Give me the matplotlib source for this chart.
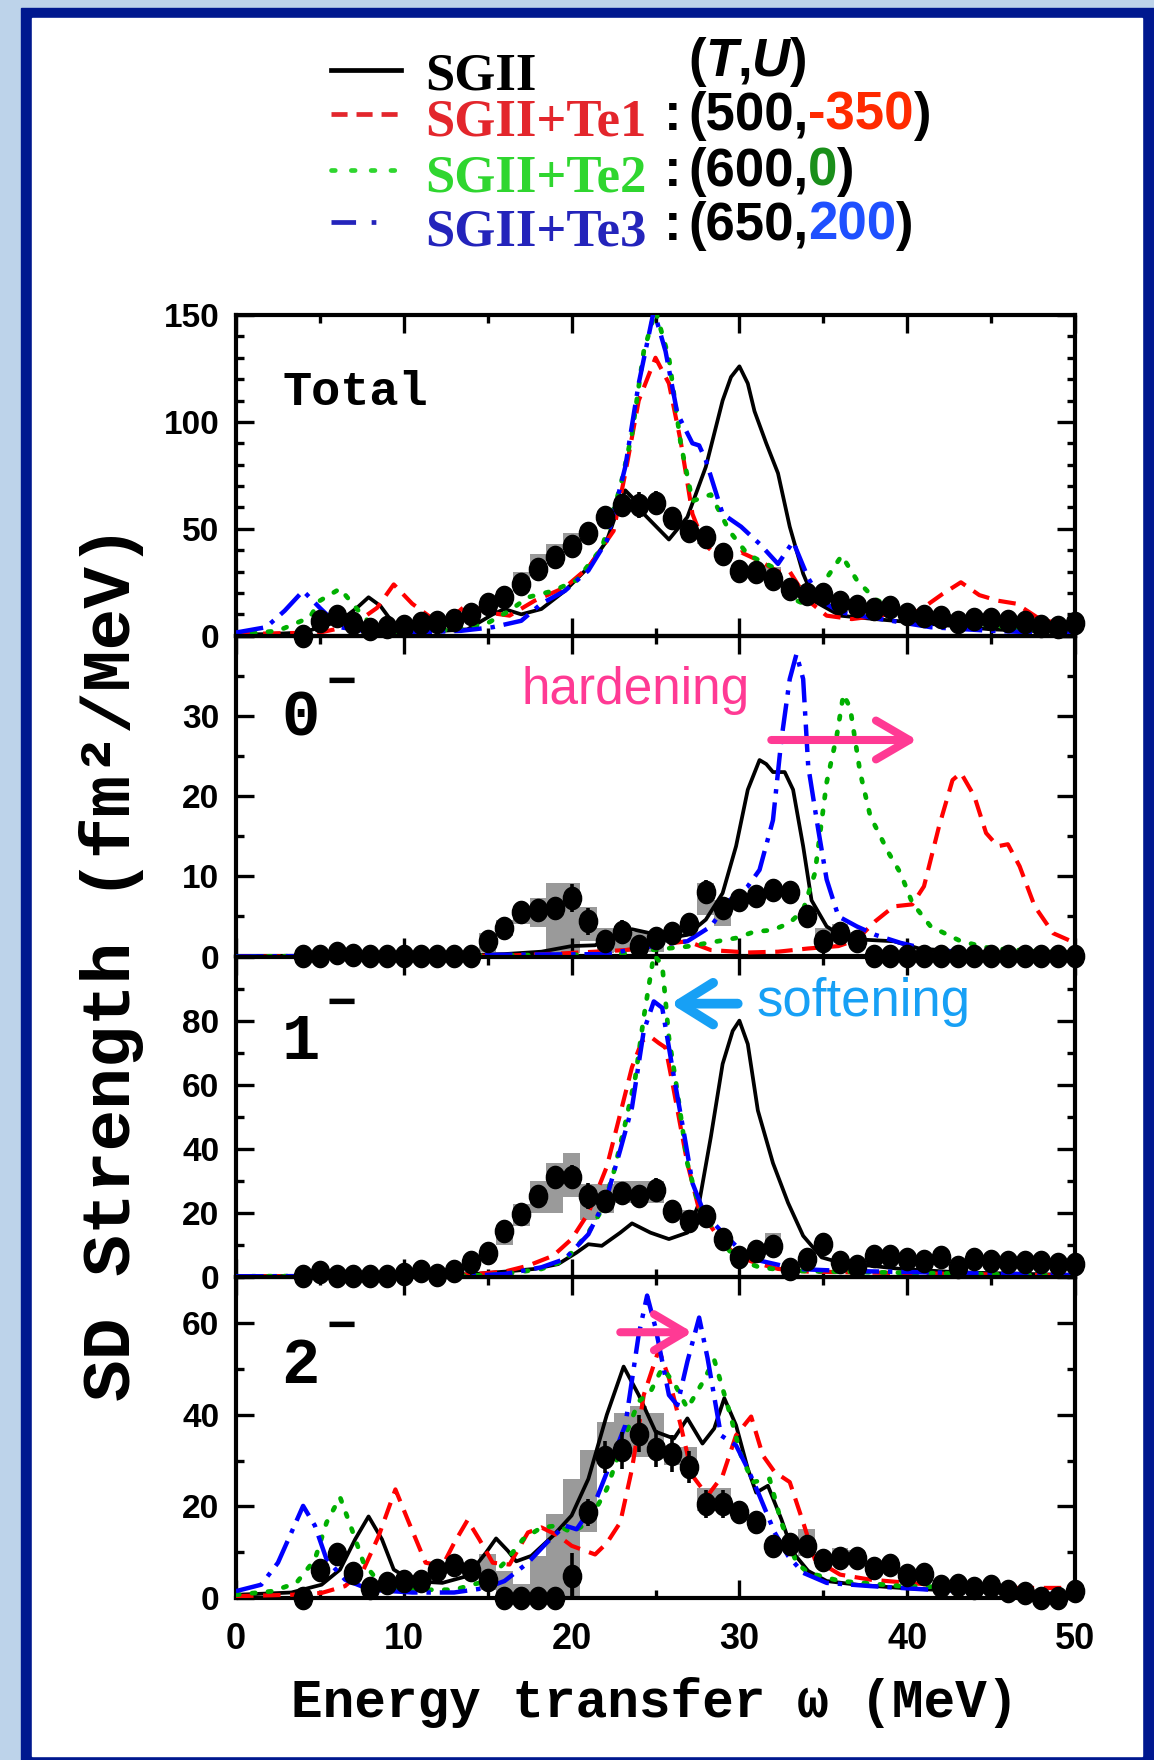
import numpy as np
import matplotlib
matplotlib.use("Agg")
import matplotlib.pyplot as plt
from matplotlib.patches import Rectangle
from matplotlib.lines import Line2D
from matplotlib.path import Path

# ---------------- data ----------------
omega_exp = list(range(4, 51))

# Total
tot_exp = [0, 6.7, 9.4, 5.8, 3, 4, 4.7, 5.8, 6.3, 7.3, 10, 15, 18, 24, 31, 37, 42, 48, 55.5, 61,
           61, 62, 55, 49, 46, 38, 30.5, 30, 26.5, 22, 19.5, 19.5, 15.6, 14, 12.5, 13.6, 10, 9.4,
           8.6, 6.3, 7.8, 7.8, 7, 6.3, 4.7, 4, 5.8]
tot_err = [1, 2, 2, 1.5, 1, 1, 1, 1, 1, 1, 1.5, 2, 2, 2.5, 3, 3, 3.5, 4, 4.5, 5, 6, 5.5, 4.5, 4,
           3.5, 3, 3, 3, 2.5, 2.5, 2, 2, 2, 2, 2, 2, 1.5, 1.5, 1.5, 1.5, 1.5, 1.5, 1.5, 1.5, 1.5, 1.5, 2]
tot_box_x = [17, 18, 19, 20, 27, 28, 32, 33]
tot_box_lo = [23, 30, 35, 40, 46, 43, 25, 20]
tot_box_hi = [30, 38, 43, 48, 52, 50, 32, 25]

tot_sgii_x = [0, 2, 4, 6.2, 7.2, 7.9, 8.6, 9.4, 10.5, 12.3, 13.8, 15.3, 16, 17, 18.2, 19.6, 21, 22.1,
              22.7, 23.2, 23.7, 24.3, 25.8, 26.9, 28, 29, 29.5, 30, 30.5, 30.9, 31.6, 32.3, 33, 33.8,
              34.5, 36, 37.8, 41.4, 45, 50]
tot_sgii_y = [0.5, 0.8, 1.5, 7, 13, 18, 14, 5.5, 3, 2.3, 3, 10, 12.5, 10, 12.5, 21, 32, 44.5, 58, 68,
              64, 57, 45, 55.5, 79, 110, 121, 126, 118, 105, 90, 76, 51, 29, 16, 9.4, 8, 5.5, 3, 1.5]
tot_te1_x = [0, 5, 6.9, 8.4, 9.4, 10.5, 11.6, 13, 13.8, 14.9, 16.3, 17.8, 19.6, 21, 22.5, 23.2, 24,
             25, 25.8, 26.5, 27.2, 27.9, 29, 30.1, 31.2, 32.3, 33, 34.1, 35.2, 36.7, 38.9, 40.7, 42.1,
             43.2, 44.3, 45.4, 46.5, 47.9, 50]
tot_te1_y = [0.8, 1.5, 4.7, 13, 24, 15, 8.6, 9.4, 15, 11, 9.4, 16.4, 22.6, 32, 49, 76, 110, 130, 118,
             91, 57, 43, 35, 39, 35, 30, 30, 16.4, 9.4, 7.8, 10, 11.7, 19.5, 25, 19, 16.4, 15, 7.8, 3.9]
tot_te2_x = [0, 2.5, 4.4, 5, 6.2, 7.3, 8.4, 10.5, 13, 14.9, 16.3, 17.4, 18.9, 20.3, 21.8, 22.9, 23.6,
             24.3, 25, 25.8, 26.5, 27.2, 28.3, 29.4, 30.5, 32, 33, 34.1, 35.2, 36.1, 37, 38.1, 39.6,
             41.4, 45, 50]
tot_te2_y = [0.5, 2.3, 8.6, 16.4, 22, 11.7, 2.3, 1.5, 3, 5.5, 11.7, 18, 21, 26, 41, 69.5, 94.5, 133,
             152, 130, 90, 63, 66, 49, 38, 32, 18, 14, 27, 37.5, 26, 17, 11.7, 7.8, 4.7, 1.5]
tot_te3_x = [0, 1.8, 2.9, 4, 5, 6.2, 7.6, 10.5, 13.4, 15.3, 17, 18.2, 19.6, 21, 22.1, 23.2, 24, 24.9,
             25.6, 26.3, 27.2, 27.6, 28, 29, 30.1, 31.2, 32.3, 33.2, 34.1, 34.9, 36, 37.8, 41.4, 45, 50]
tot_te3_y = [1.5, 4, 11.7, 21, 13, 4, 2.3, 1.5, 2.3, 4, 7, 15, 21, 30.5, 44.5, 79, 118, 152, 133, 104,
             90, 89, 82, 57, 51, 43, 33.6, 44, 27, 16.4, 11, 8.6, 4, 2.3, 1]

# 0-
m0_exp = [0, 0, 0.4, 0.2, 0, 0, 0, 0, 0, 0, 0, 1.9, 3.5, 5.6, 5.8, 6, 7.3, 4.4, 1.9, 3.1, 1.3, 2.3,
          2.9, 4, 8.1, 6, 7, 7.5, 8.3, 8.1, 5, 1.9, 2.9, 1.9, 0, 0, 0, 0, 0, 0, 0, 0, 0, 0, 0, 0, 0]
m0_err = [0.2, 0.2, 0.3, 0.3, 0.2, 0.2, 0.2, 0.2, 0.2, 0.2, 0.2, 1, 0.8, 0.6, 0.7, 0.9, 1.8, 1.7,
          1.2, 1.5, 0.8, 1.2, 1.4, 1.4, 1.4, 1.2, 1, 1, 1, 1.1, 1.3, 1.3, 1.4, 0.8, 0.2, 0.2, 0.2,
          0.2, 0.2, 0.2, 0.2, 0.2, 0.2, 0.2, 0.2, 0.2, 0.2]
m0_box_x = [15, 16, 17, 18, 19, 20, 21, 22, 23, 24, 25, 28, 29, 35, 36, 37]
m0_box_lo = [0.6, 2.5, 4, 3.7, 0.4, 0.4, 1.9, 0.4, 0.5, 0.5, 0.5, 5.2, 3.8, 1.5, 2, 1.5]
m0_box_hi = [2.9, 4.5, 6, 7.3, 9.2, 9.2, 6.2, 3.5, 3.8, 3, 2.8, 9.2, 7, 3.5, 4, 3]

m0_sgii_x = [0, 14, 16, 18.2, 20, 21.4, 22.9, 23.6, 24.7, 25.8, 26.9, 28, 29, 29.8, 30.5, 31.2, 31.6,
             32, 32.7, 33.2, 33.8, 34.3, 35.2, 36.3, 37.4, 39.2, 40.7, 43.2, 50]
m0_sgii_y = [0, 0.2, 0.3, 0.6, 1.3, 1.4, 2.9, 3.4, 2.9, 2.3, 2.7, 4.6, 7.9, 13.75, 20.8, 24.5, 24, 23,
             23, 20.8, 13.75, 7, 3.75, 2.3, 2.1, 1.9, 1, 0.6, 0.2]
m0_te1_x = [0, 16, 19.6, 23.2, 26.1, 26.9, 28.3, 30.5, 32.3, 34.1, 35.9, 37, 38.1, 39.2, 40.3, 41,
            41.9, 42.7, 43.2, 44, 44.7, 45.4, 46, 46.7, 47.6, 48.7, 50]
m0_te1_y = [0, 0.1, 0.4, 0.8, 1.7, 1.9, 0.8, 0.5, 0.6, 1, 1.3, 2.1, 4.4, 6.25, 6.5, 8.75, 16.25, 22,
            22.9, 20, 15.4, 13.75, 14, 11.25, 6.25, 2.9, 1.7]
m0_te2_x = [0, 20, 23.2, 24.7, 26.9, 28.7, 29.8, 30.9, 32, 33, 33.8, 34.5, 35.2, 35.8, 36.2, 36.6, 37.2,
            37.8, 38.9, 39.6, 40.3, 41.4, 43.2, 45, 50]
m0_te2_y = [0, 0.2, 0.4, 0.8, 1.25, 1.9, 2.3, 3.1, 3.3, 4.2, 5.8, 10.4, 21.7, 27.5, 32.7, 31, 22.9,
            17.5, 12.9, 10.4, 6.7, 3.75, 1.9, 1, 0.4]
m0_te3_x = [0, 22, 25.4, 26.9, 28.3, 29.4, 30.5, 31.2, 32, 32.5, 33, 33.4, 33.8, 34.1, 34.7, 35.2, 35.9,
            37, 38.1, 39.6, 41.4, 45, 50]
m0_te3_y = [0, 0.3, 1.5, 1.9, 3.75, 7, 8.75, 10.8, 17, 27, 34.6, 37.7, 34.6, 23.75, 15.8, 9.6, 5, 3.75,
            2.7, 1.7, 0.8, 0.4, 0.2]

# 1-
m1_exp = [0.3, 1.5, 0.5, 0.3, 0.3, 0.3, 1, 2, 0.7, 2, 4.6, 7.7, 14.4, 19.6, 25.3, 31.4, 31.4, 25.3,
          23.7, 26.3, 25.3, 27.3, 20.6, 17.5, 19, 11.9, 6.2, 8.2, 9.8, 2.6, 5.7, 10.3, 4.6, 3.6, 6.7,
          6.7, 5.7, 5.2, 6.2, 3.1, 5.7, 5.2, 4.8, 4.8, 4.6, 4.1, 4.1]
m1_err = [0.5, 1, 0.5, 0.5, 0.5, 0.5, 1, 1, 0.5, 1, 1.5, 1.5, 2, 2, 2.5, 3, 3.5, 4, 3.5, 3, 3.5, 3.5,
          3, 3, 3, 2.5, 2.5, 2.5, 2.5, 2, 2, 2, 1.5, 1.5, 1.5, 1.5, 1.5, 1.5, 1.5, 1.5, 1.5, 1.5, 1.5,
          1.5, 1.5, 1.5, 1.5]
m1_box_x = [16, 17, 18, 19, 20, 21, 22, 23, 24, 25, 27, 28, 32]
m1_box_lo = [10, 16, 20, 20, 25, 18, 20, 23, 23, 23, 17, 17, 7.7]
m1_box_hi = [15, 22.7, 30, 35.5, 38.6, 29, 29, 30, 30, 30, 21, 21.5, 13.9]

m1_sgii_x = [0, 12, 14.2, 16, 17.8, 19.2, 20.3, 21, 21.8, 22.9, 23.6, 24.7, 25.8, 26.9, 27.6, 28.3, 29,
             29.6, 30, 30.5, 31.1, 32, 32.9, 33.8, 34.9, 36.3, 37.8, 39.6, 43.2, 50]
m1_sgii_y = [0.3, 0.5, 1, 1.75, 2.6, 4.1, 7.7, 10.3, 9.8, 13.9, 16.8, 13.9, 11.9, 13.9, 23.2, 43.8,
             66.5, 76.8, 80, 72.7, 52, 35.6, 23.2, 12.9, 6.2, 4.1, 3.6, 2.6, 1.5, 0.7]
m1_te1_x = [0, 12, 14.2, 16, 17.4, 18.9, 20, 21, 22.1, 22.9, 23.6, 24.2, 24.7, 25.2, 25.6, 26.1, 26.9,
            27.6, 28.7, 29.8, 30.9, 32.3, 34.1, 50]
m1_te1_y = [0.3, 0.5, 1, 1.75, 3.6, 6.7, 11.9, 20, 34.5, 51, 65.5, 73.7, 75, 73, 71.6, 58, 35.5, 21,
            12.9, 6.7, 4.6, 2.6, 1.75, 0.5]
m1_te2_x = [0, 14, 16, 18.2, 19.6, 21, 21.8, 22.5, 23.2, 23.8, 24.3, 24.9, 25.4, 25.8, 26.3, 26.9, 27.6,
            28.7, 29.8, 31.2, 33, 50]
m1_te2_y = [0.3, 0.5, 1, 2.6, 5.2, 13.9, 21, 32.5, 48, 62.4, 81, 100.5, 97.4, 74.7, 58, 35.5, 22, 12.9,
            5.7, 3.1, 2, 0.5]
m1_te3_x = [0, 14, 16, 18.2, 19.6, 21, 22.1, 22.9, 23.6, 24.3, 24.9, 25.4, 26.1, 26.7, 27.2, 27.9, 29,
            30.1, 31.2, 33.4, 36, 50]
m1_te3_y = [0.3, 0.5, 1, 3.1, 5.7, 13.4, 25, 39.7, 53, 76.8, 86, 84, 62.4, 44.8, 29.4, 20, 13.9, 8.2,
            5.2, 2.6, 2, 0.7]

# 2-
m2_exp = [0, 6.2, 9.5, 5.5, 2.2, 3.3, 3.7, 3.7, 6.2, 7.3, 6.2, 4, 0, 0, 0, 0, 4.8, 18.7, 30.8, 32.2,
          35.9, 32.6, 31.5, 28.6, 20.5, 20.5, 18.7, 16.5, 11.4, 11.7, 11.4, 8.4, 8.8, 8.8, 6.6, 7.3,
          5.1, 5.3, 2.6, 2.9, 2.2, 2.6, 1.5, 1.1, 0, 0, 1.5]
m2_err = [0.5, 1, 1, 1, 1, 1, 1, 1, 1, 1, 1, 1.5, 0.5, 0.5, 0.5, 0.5, 5, 3, 3.5, 4, 4, 4, 4, 3.5, 3,
          3, 2.5, 2.5, 2, 2, 2, 1.5, 1.5, 1.5, 1.2, 1.2, 1, 1, 1, 1, 1, 1, 1, 1, 0.5, 0.5, 1]
m2_box_x = [11, 15, 16, 17, 18, 19, 20, 21, 22, 23, 24, 25, 26, 27, 28, 29, 34, 36, 37]
m2_box_lo = [3.5, 1.8, 0, 0, 0, 0, 0, 14.3, 29.7, 30.8, 30.8, 30.8, 29, 29, 19, 19, 9.2, 8, 8]
m2_box_hi = [5, 9.5, 5.9, 3, 9.2, 18.3, 26, 32.2, 38.5, 40.3, 42, 40.3, 33, 33, 24, 24, 15, 11, 10.5]

m2_sgii_x = [0, 3.3, 5.1, 6.2, 7.1, 7.9, 8.7, 9.4, 10.5, 12.3, 13.8, 14.9, 15.5, 16.2, 16.7, 17.6,
             18.9, 20, 21, 22.1, 23.1, 24, 25, 26.1, 26.9, 27.8, 28.5, 29.1, 29.8, 30.5, 31, 31.7,
             32.5, 33.2, 34.1, 35.2, 37, 39.6, 43.2, 50]
m2_sgii_y = [0.7, 1.2, 2.9, 6.2, 12.8, 17.8, 12.8, 6.2, 3.7, 3.3, 4.8, 9.9, 13, 10.3, 8, 9.2, 13.6,
             18, 26, 40, 50.5, 44.3, 36.3, 34.8, 39.2, 33.7, 37, 43.6, 37.7, 28.2, 23, 24.5, 17.2,
             9.9, 5.9, 3.7, 2.9, 2.2, 1.5, 0.7]
m2_te1_x = [0, 3.3, 5.1, 6.5, 7.6, 8.5, 9.5, 10.3, 11.3, 12.3, 13, 13.8, 14.5, 15.3, 16.3, 17.4, 18.2,
            19.2, 20, 21.4, 22.1, 22.9, 23.6, 24.3, 25.2, 25.8, 26.5, 27.2, 28.1, 29, 29.8, 30.7,
            31.4, 32.1, 33, 33.8, 34.5, 36, 37.8, 41.4, 45, 50]
m2_te1_y = [0.4, 0.7, 1.1, 2.6, 6.2, 13.5, 23.7, 16.5, 7.7, 7, 12, 17, 12.8, 7.7, 7.3, 14.3, 15.4,
            13.6, 11.4, 9.5, 12, 16.5, 28.2, 44.3, 54.2, 48, 37.7, 26.7, 22.3, 26.7, 35.5, 39.6, 31.1,
            27.5, 25.3, 16.5, 8.4, 5.1, 4, 2.9, 2.2, 2.2]
m2_te2_x = [0, 2.2, 3.6, 4.7, 5.4, 6.2, 6.9, 7.6, 8.7, 10.5, 13, 14.9, 16, 17.1, 18.2, 19.2, 20, 21,
            22.1, 23.2, 24, 24.7, 25.4, 26.1, 26.9, 27.8, 28.5, 29.4, 30.1, 30.8, 31.8, 32.5, 33.4,
            34.1, 36, 39.6, 45, 50]
m2_te2_y = [0.7, 1.5, 3.3, 8.4, 16.5, 22, 15, 7.7, 2.6, 1.8, 1.8, 3.7, 7.7, 12.8, 15.4, 15.8, 14.3,
            16.5, 23.8, 35.5, 42.9, 45, 50.2, 47, 41.4, 47, 52, 40.7, 31.1, 25.3, 26, 16.5, 7.7, 5.5,
            3.7, 2.6, 2.2, 1.1]
m2_te3_x = [0, 1.5, 2.5, 3.3, 4, 4.7, 5.4, 6.5, 8, 10.5, 13, 14.9, 16, 17.4, 18.5, 19.6, 20.3, 21.4,
            22.5, 23.2, 24, 24.5, 25, 25.8, 26.3, 26.9, 27.6, 28.1, 28.9, 29.8, 30.5, 31.2, 32.1, 32.9,
            33.8, 35.2, 37.8, 41.4, 50]
m2_te3_y = [1.5, 2.9, 7.7, 14.3, 20.1, 15.8, 8.4, 4, 1.8, 1.2, 1.2, 2.2, 3.7, 7.7, 12, 15.8, 15, 20.9,
            31.1, 37.7, 57.5, 66, 59, 44.3, 42.1, 51.6, 61.2, 52.4, 35.5, 33.3, 28.2, 22.3, 14.3, 9.2,
            5.5, 3.3, 2.6, 1.8, 0.7]

legend_names = ["SGII", "SGII+Te1", "SGII+Te2", "SGII+Te3"]
legend_T = ["500", "600", "650"]
legend_U = ["-350", "0", "200"]
panel_names = ["Total", "0", "1", "2"]

# ---------------- figure ----------------
W, H = 1154, 1760
fig = plt.figure(figsize=(W / 100, H / 100), dpi=100)
fig.patch.set_facecolor("#bdd3ea")


def fx(px):
    return px / W


def fy(py):
    return 1 - py / H


fig.patches.append(Rectangle((fx(21), 0), 1 - fx(21), fy(8), transform=fig.transFigure,
                             color="#00188f", zorder=-20))
fig.patches.append(Rectangle((fx(32), fy(1756)), fx(1142) - fx(32), fy(18) - fy(1756),
                             transform=fig.transFigure, color="white", zorder=-10))

MONO = ["Liberation Mono", "DejaVu Sans Mono"]
SANS = ["Liberation Sans", "DejaVu Sans"]
SERIF = ["Liberation Serif", "DejaVu Serif"]

c_red, c_green, c_blue = "#ff0000", "#00b000", "#0000ff"
styles = [
    dict(color="black", lw=2.7),
    dict(color=c_red, lw=3.0, dashes=(4.2, 2.3)),
    dict(color=c_green, lw=3.4, dashes=(0.7, 2.7), dash_capstyle="round"),
    dict(color=c_blue, lw=3.2, dashes=(6.2, 2.0, 1.0, 2.0)),
]

circ = Path.unit_circle()
ellipse = Path(circ.vertices * np.array([0.82, 1.0]), circ.codes)

panels = [
    dict(exp=tot_exp, err=tot_err, bx=tot_box_x, blo=tot_box_lo, bhi=tot_box_hi,
         curves=[(tot_sgii_x, tot_sgii_y), (tot_te1_x, tot_te1_y), (tot_te2_x, tot_te2_y),
                 (tot_te3_x, tot_te3_y)],
         ylim=150, yt=[0, 50, 100, 150], ylab=["0", "50", "100", "150"], minor=10),
    dict(exp=m0_exp, err=m0_err, bx=m0_box_x, blo=m0_box_lo, bhi=m0_box_hi,
         curves=[(m0_sgii_x, m0_sgii_y), (m0_te1_x, m0_te1_y), (m0_te2_x, m0_te2_y),
                 (m0_te3_x, m0_te3_y)],
         ylim=40, yt=[0, 10, 20, 30, 40], ylab=["0", "10", "20", "30", ""], minor=5),
    dict(exp=m1_exp, err=m1_err, bx=m1_box_x, blo=m1_box_lo, bhi=m1_box_hi,
         curves=[(m1_sgii_x, m1_sgii_y), (m1_te1_x, m1_te1_y), (m1_te2_x, m1_te2_y),
                 (m1_te3_x, m1_te3_y)],
         ylim=100, yt=[0, 20, 40, 60, 80, 100], ylab=["0", "20", "40", "60", "80", ""], minor=10),
    dict(exp=m2_exp, err=m2_err, bx=m2_box_x, blo=m2_box_lo, bhi=m2_box_hi,
         curves=[(m2_sgii_x, m2_sgii_y), (m2_te1_x, m2_te1_y), (m2_te2_x, m2_te2_y),
                 (m2_te3_x, m2_te3_y)],
         ylim=70, yt=[0, 20, 40, 60], ylab=["0", "20", "40", "60"], minor=10),
]

top_px, bot_px = 315, 1598
ph = (bot_px - top_px) / 4
axes = []
for i, p in enumerate(panels):
    t = top_px + i * ph
    ax = fig.add_axes([fx(236), fy(t + ph), fx(1075) - fx(236), ph / H])
    ax.set_facecolor("none")
    ax.set_xlim(0, 50)
    ax.set_ylim(0, p["ylim"])
    ax.set_xticks(np.arange(0, 51, 10))
    ax.set_xticks(np.arange(0, 51, 5), minor=True)
    ax.set_yticks(p["yt"])
    ax.set_yticklabels(p["ylab"])
    ax.set_yticks(np.arange(0, p["ylim"] + 0.1, p["minor"]), minor=True)
    ax.tick_params(which="both", direction="in", top=True, right=True, width=2.4)
    ax.tick_params(which="major", length=13)
    ax.tick_params(which="minor", length=6)
    ax.tick_params(axis="y", pad=12, labelsize=24)
    ax.tick_params(axis="x", pad=17, labelsize=26, labelbottom=(i == 3))
    for lab in ax.get_xticklabels() + ax.get_yticklabels():
        lab.set_family(SANS)
        lab.set_weight("bold")
    for s in ax.spines.values():
        s.set_linewidth(3)

    ax.bar(p["bx"], np.array(p["bhi"]) - np.array(p["blo"]), bottom=p["blo"], width=1.0,
           color="#9a9a9a", linewidth=0, zorder=1)
    for (cx, cy), st in zip(p["curves"], styles):
        ax.plot(cx, cy, zorder=3, **st)
    ax.errorbar(omega_exp, p["exp"], yerr=p["err"], fmt="none", ecolor="black",
                elinewidth=2.6, zorder=4)
    ax.plot(omega_exp, p["exp"], ls="none", marker=ellipse, ms=16, color="black",
            zorder=5, clip_on=False)
    axes.append(ax)

ax_t, ax0, ax1, ax2 = axes

# panel labels
ax_t.text(2.8, 108, panel_names[0], family=MONO, fontsize=35, weight="bold", va="baseline")
for ax, name, yb, ym in [(ax0, panel_names[1], 27.5, 34.0), (ax1, panel_names[2], 68, 85),
                         (ax2, panel_names[3], 47, 59)]:
    ax.text(2.7, yb, name, family=MONO, fontsize=46, weight="bold", va="baseline")
    ax.text(5.4, ym, "\u2212", family=MONO, fontsize=36, weight="bold", va="center")

# annotations
ax0.text(17.0, 31.5, "hardening", family=SANS, fontsize=37, color="#ff3a94", va="baseline")
ax0.annotate("", xy=(40.6, 27), xytext=(31.9, 27),
             arrowprops=dict(arrowstyle="->,head_length=1.2,head_width=0.7", color="#ff3a94",
                             lw=5.8, mutation_scale=20, shrinkA=0, shrinkB=0))
ax1.text(31.0, 81.6, "softening", family=SANS, fontsize=38, color="#17a0f5", va="baseline")
ax1.annotate("", xy=(25.9, 85.3), xytext=(29.9, 85.3),
             arrowprops=dict(arrowstyle="->,head_length=1.2,head_width=0.75", color="#17a0f5",
                             lw=7, mutation_scale=20, shrinkA=0, shrinkB=0))
ax2.annotate("", xy=(27.2, 58), xytext=(22.9, 58),
             arrowprops=dict(arrowstyle="->,head_length=1.1,head_width=0.65", color="#ff3a94",
                             lw=5.8, mutation_scale=20, shrinkA=0, shrinkB=0))

# axis labels
fig.text(fx(112), fy(963), "SD Strength (fm\u00b2/MeV)", family=MONO, fontsize=50, weight="bold",
         rotation=90, ha="center", va="center")
fig.text(fx(655), fy(1717), "Energy transfer \u03c9 (MeV)", family=MONO, fontsize=38, weight="bold",
         ha="center", va="baseline")

# legend
leg_line_y = [70, 114, 170, 222]
leg_text_y = [90, 136, 191, 245]
leg_colors = ["black", "#e3262c", "#2fd62f", "#2424bb"]
leg_styles = [
    dict(color="black", lw=3.4),
    dict(color="#e3262c", lw=3.4, dashes=(3.4, 1.9)),
    dict(color="#2fd62f", lw=3.4, dashes=(0.8, 3.4), dash_capstyle="round"),
    dict(color="#2424bb", lw=3.4, dashes=(5.2, 3.3, 1.0, 6)),
]
for yl, yt, name, col, st in zip(leg_line_y, leg_text_y, legend_names, leg_colors, leg_styles):
    fig.lines.append(Line2D([fx(331), fx(401)], [fy(yl), fy(yl)], transform=fig.transFigure, **st))
    fig.text(fx(425), fy(yt), name, family=SERIF, weight="bold", fontsize=38, color=col,
             va="baseline")

renderer = fig.canvas.get_renderer()


def chain(x_px, y_px, parts, size=38):
    x = fx(x_px)
    for s, col, sty in parts:
        t = fig.text(x, fy(y_px), s, color=col, style=sty, family=SANS, weight="bold",
                     fontsize=size, va="baseline", ha="left")
        bb = t.get_window_extent(renderer)
        x = bb.x1 / fig.bbox.width


chain(688, 76, [("(", "black", "normal"), ("T", "black", "italic"), (",", "black", "normal"),
                ("U", "black", "italic"), (")", "black", "normal")])
u_colors = ["#ff2a00", "#1a8f1a", "#1f50ff"]
for yb, tv, uv, uc in zip([130, 186, 240], legend_T, legend_U, u_colors):
    chain(664, yb, [(":", "black", "normal")])
    chain(688, yb, [("(" + tv + ",", "black", "normal"), (uv, uc, "normal"), (")", "black", "normal")])

fig.savefig("out.png", dpi=100, facecolor=fig.get_facecolor())
